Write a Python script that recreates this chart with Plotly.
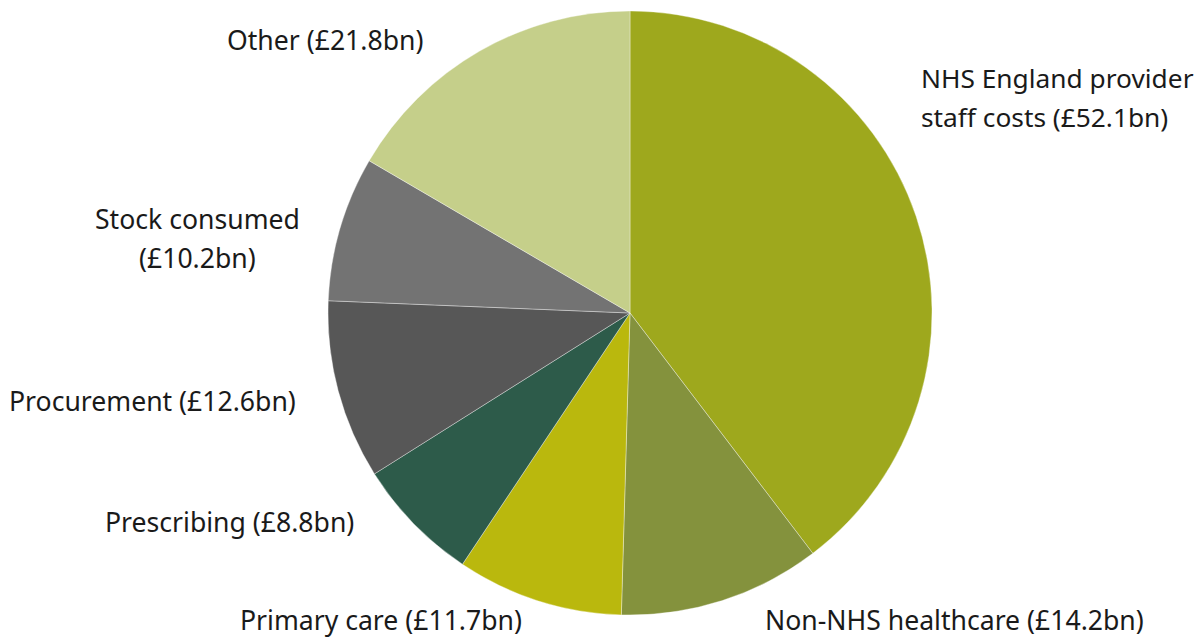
import plotly.graph_objects as go

categories = ["NHS England provider staff costs", "Non-NHS healthcare", "Primary care",
              "Prescribing", "Procurement", "Stock consumed", "Other"]
values = [52.1, 14.2, 11.7, 8.8, 12.6, 10.2, 21.8]
colors = ["#9ea81d", "#84923d", "#bab80d", "#2d5b4a", "#575757", "#737373", "#c5cf8a"]

# label lines (text) per category
label_lines = [
    ["NHS England provider", "staff costs (£{:.1f}bn)"],
    ["Non-NHS healthcare (£{:.1f}bn)"],
    ["Primary care (£{:.1f}bn)"],
    ["Prescribing (£{:.1f}bn)"],
    ["Procurement (£{:.1f}bn)"],
    ["Stock consumed", "(£{:.1f}bn)"],
    ["Other (£{:.1f}bn)"],
]
# label placement (pixel anchor x, first line y, x-anchor) in page pixels
label_pos = [
    (919, 78, "left"),
    (954, 620, "center"),
    (381, 620, "center"),
    (356, 522, "right"),
    (298, 401, "right"),
    (197, 219, "center"),
    (325, 40, "center"),
]

OFF = 8  # page body margin
W, H = 1196, 629
cx, cy, r = 630 - OFF, 313 - OFF, 302

fig = go.Figure(go.Pie(
    labels=categories, values=values, sort=False, direction="clockwise", rotation=0,
    marker=dict(colors=colors, line=dict(color="rgba(255,255,255,0.6)", width=0.6)),
    textinfo="none", hoverinfo="label+value", showlegend=False,
    domain=dict(x=[(cx - r) / W, (cx + r) / W], y=[(H - cy - r) / H, (H - cy + r) / H]),
))

annotations = []
for k, (lines, val, (px, py, anchor)) in enumerate(zip(label_lines, values, label_pos)):
    for i, line in enumerate(lines):
        annotations.append(dict(
            text=line.format(val) if "{" in line else line,
            x=(px - OFF) / W, y=1 - (py - OFF + i * 39) / H, xref="paper", yref="paper",
            xanchor=anchor, yanchor="middle", showarrow=False,
            font=dict(family="Noto Sans", size=26.3 if k == 0 else 26.6, color="#1a1a1a"),
        ))

fig.update_layout(
    width=W, height=H, margin=dict(l=0, r=0, t=0, b=0),
    paper_bgcolor="white", plot_bgcolor="white", annotations=annotations,
)
fig.write_html("out.html")
